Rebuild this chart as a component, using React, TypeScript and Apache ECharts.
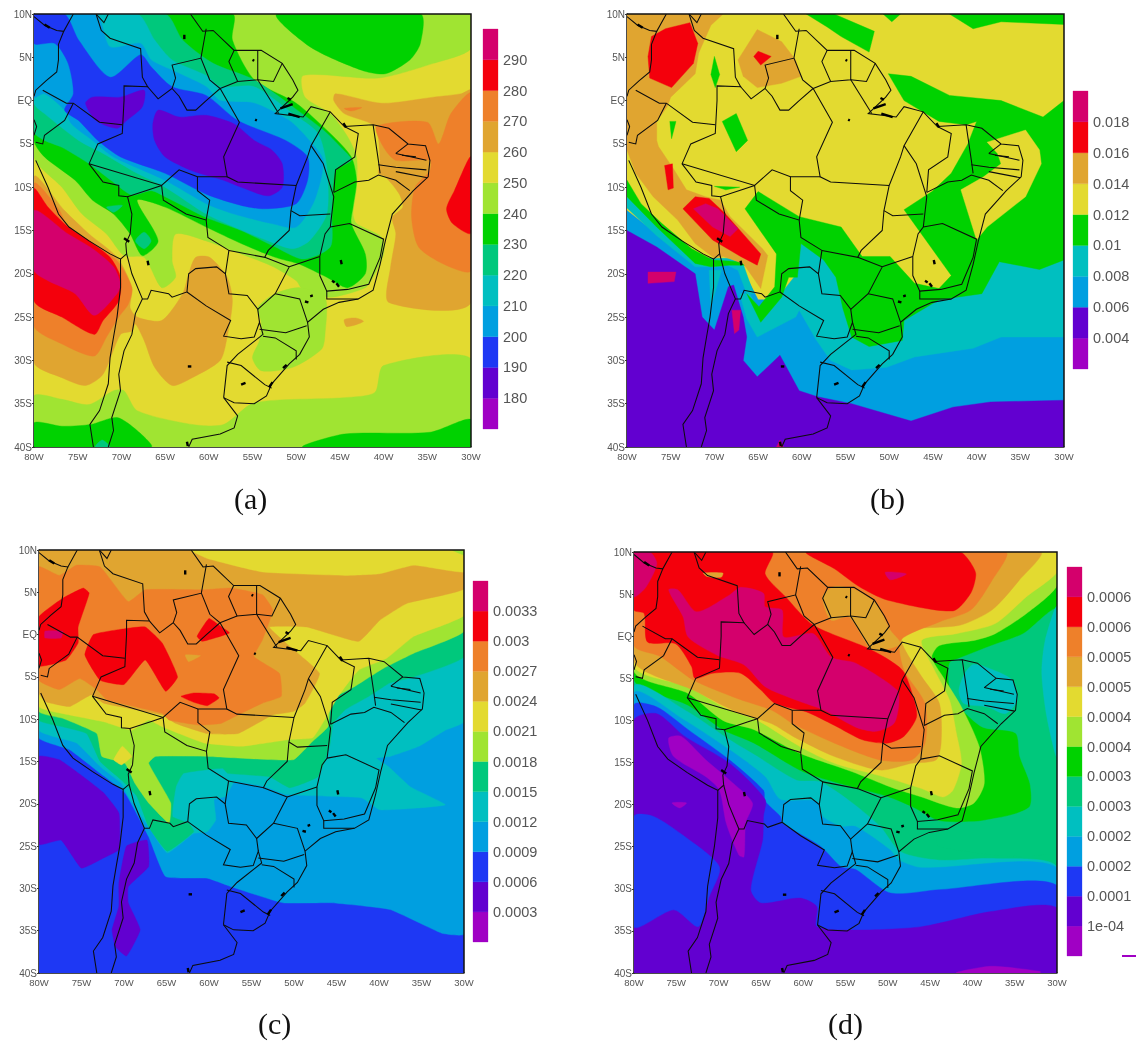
import React, { useEffect, useRef } from "react";
import * as echarts from "echarts";

type Pts = number[][];
// Contour classes, lowest to highest
const VIOLET = 0, PURPLE = 1, BLUE = 2, SKY = 3, TEAL = 4, SEA = 5, GREEN = 6, LIME = 7, YELLOW = 8, GOLD = 9, ORANGE = 10, RED = 11, PINK = 12;
const classColors = ["#A000C4", "#6200D0", "#1E38F4", "#009FE0", "#00BFC0", "#00C87C", "#00D200", "#A0E432", "#E3DA30", "#E0A530", "#EE802A", "#F4000C", "#D4006C"];

const whole: Pts = [[-80, 10], [-30, 10], [-30, -40], [-80, -40]];

// ---------- map outlines (lon, lat) ----------
const outlines: Pts[] = [
  [[-80, 9.7], [-78.8, 8.7], [-77.4, 8.1], [-76.6, 8], [-75.5, 10]],
  [[-76.6, 8], [-77.2, 6.5], [-77.2, 4.7], [-77.4, 3.3], [-78.6, 2.3], [-79.8, 1.2], [-80, 0.5]],
  [[-80, -2.2], [-79.7, -3], [-80, -4]],
  [[-79.8, -6.9], [-78.4, -10], [-77.2, -13.1], [-76, -14.6], [-73.7, -16.2], [-71.3, -17.7], [-70.1, -18.3], [-70.1, -21.6], [-70.5, -25], [-70.9, -27.3], [-71.3, -29.7], [-71.5, -32.7], [-72.5, -35.8], [-73.6, -37.4], [-73.2, -40]],
  [[-69.4, -17.7], [-68.8, -20], [-67.6, -22.9], [-68.4, -24.6], [-68.8, -27], [-69.7, -28.9], [-70.3, -31.6], [-70.1, -33.5], [-71.1, -36.6], [-70.9, -38.1], [-71.5, -40]],
  [[-67.6, -22.9], [-67, -22.9], [-66.6, -21.9], [-64.6, -22.3], [-64.2, -22.7], [-62.5, -22.1], [-62.3, -20], [-61.5, -19.4], [-59.1, -19.2], [-58.1, -20], [-57.7, -22.3], [-55.6, -22.5], [-54.4, -24.1], [-54.2, -25.6]],
  [[-62.5, -22.1], [-60.3, -23.7], [-57.5, -25.4], [-58.3, -27.2], [-56.3, -27.5], [-54.8, -27.3], [-54.2, -25.6], [-53.8, -27], [-56.7, -29.3], [-57.9, -30.6], [-58.3, -34.3]],
  [[-57.9, -30.2], [-56.3, -30.6], [-53.6, -32.8], [-52.8, -33.2]],
  [[-58.3, -34.3], [-57.1, -34.9], [-54.8, -35], [-53.4, -34.1], [-52.8, -32.7], [-50.8, -30.4], [-49.6, -29.3], [-48.5, -27.3], [-48.7, -25.6], [-46.9, -24.1], [-45.1, -23.3], [-42.9, -22.9], [-41.2, -21.9], [-40.4, -18.9], [-39.8, -16.2], [-39, -13.1], [-36.6, -10.4], [-34.9, -8.8], [-34.7, -6.9], [-35.2, -5.2], [-37.2, -5], [-39.4, -3.2], [-41.2, -2.8], [-44.5, -3], [-46.1, -1.3], [-48.3, -0.7], [-49.2, -1.9], [-52.4, -1.5], [-50.4, 0.4], [-49.8, 1.2], [-50.4, 2.4], [-51.6, 4.3], [-54, 5.8], [-57.1, 5.8], [-59.5, 8.1], [-60.7, 8], [-62.1, 10]],
  [[-58.3, -34.3], [-56.7, -36.4], [-57.1, -37.8], [-58.7, -38.5], [-61.9, -39.1], [-62.3, -40]],
  [[-72.9, 10], [-72.3, 8.1], [-71.3, 7.2], [-67.8, 6], [-67.6, 2.7], [-67, 1.6], [-69.7, 1.7], [-69.7, 0], [-69.9, -3.8], [-72.7, -5], [-73.7, -7.3], [-72.1, -9.4], [-70.3, -9.8], [-70.3, -11], [-69.3, -11.1], [-66.6, -10.2], [-65.4, -9.8], [-65.2, -11.5], [-62.6, -13.1], [-60.3, -13.8], [-60.1, -15.8], [-57.7, -17.3], [-58.1, -20]],
  [[-72.9, 10], [-72, 9], [-71.5, 10]],
  [[-67, 1.6], [-65.8, 0.2], [-64.2, 1.4], [-63.8, 2.6], [-64.2, 4.1], [-60.9, 4.9], [-60.3, 8.3]],
  [[-60.9, 4.9], [-59.9, 2.4], [-58.7, 1.4], [-60.3, 0], [-61.5, -1.1], [-62.5, -1.1], [-63.4, 0.5], [-64.2, 1.4]],
  [[-58.7, 1.4], [-56.5, -2.5], [-58.3, -6.5], [-57.9, -8.8], [-56.7, -9.4], [-50, -9.8]],
  [[-73.7, -7.3], [-65.4, -9.8], [-63.4, -8], [-61.3, -8.8], [-57.9, -8.8]],
  [[-61.3, -8.8], [-61.3, -10.4], [-59.9, -11.5], [-60.3, -13.8]],
  [[-50, -9.8], [-48.7, -6.5], [-48.3, -5.2], [-46.1, -1.3]],
  [[-48.3, -5.2], [-46.9, -7.3], [-45.7, -11.1], [-46.1, -14.6], [-46.7, -15.4], [-47.3, -18], [-47.3, -20.2], [-46.5, -22], [-44.1, -21.8], [-41.7, -21.2], [-40.4, -18.1], [-40, -16], [-43.9, -14.2], [-46.1, -14.6]],
  [[-50, -9.8], [-50.6, -12.7], [-50.8, -15], [-53.2, -17.3], [-53.6, -18.1], [-57.7, -17.3]],
  [[-50.6, -12.7], [-49.6, -13.3], [-46.1, -13.1]],
  [[-53.6, -18.1], [-50.8, -19.2], [-52.4, -22.3], [-54.4, -24.1]],
  [[-47.3, -18], [-50.8, -19.2]],
  [[-52.4, -22.3], [-49.6, -22.9], [-48.7, -25.6]],
  [[-46.5, -22], [-46.5, -22.9], [-42.9, -22.9]],
  [[-54.2, -26.4], [-51.2, -26.8], [-48.8, -26]],
  [[-53.8, -27.2], [-52.4, -27.4], [-50, -28.9], [-50, -29.9]],
  [[-45.7, -10.6], [-43.3, -9.4], [-41.7, -9.2], [-40.6, -8.6], [-38.6, -9.2], [-37, -10.4]],
  [[-44.5, -3], [-42.9, -3.8], [-43.3, -6.5], [-45.5, -8], [-45.7, -10.6]],
  [[-41.2, -2.8], [-40.6, -6.9], [-40.4, -8.4]],
  [[-40.6, -7.4], [-38.6, -7.7], [-35.1, -8]],
  [[-38.6, -6.1], [-35.1, -6.9]],
  [[-38.6, -6.1], [-37.2, -5]],
  [[-37.9, -6.3], [-36.3, -6.5]],
  [[-38.6, -8.2], [-35, -8.9]],
  [[-57.1, 5.8], [-57.7, 4.5], [-56.7, 2.2], [-54.4, 2.4], [-54.4, 5.8]],
  [[-54.4, 2.4], [-52.6, 2.2], [-51.6, 4.3]],
  [[-58.7, 1.4], [-56.7, 2.2]],
  [[-54.4, 2.4], [-52, -1.5]],
  [[-79, 1.2], [-76.3, -0.3], [-75.5, -0.3], [-72.5, -2.5], [-69.9, -2.8]],
  [[-75.5, -0.3], [-76.5, -2.3], [-78.8, -4], [-79, -5], [-79.8, -4.8]],
  [[-69.3, -11.1], [-68.8, -13.1], [-69, -15.4], [-69.5, -16.5], [-69.4, -17.7], [-70.1, -18.3]],
];
const waterBodies: Pts[] = [
  [[-62.8, 7.6], [-62.8, 7.1]], [[-55, 4.7], [-54.8, 4.6]], [[-54.7, -2.2], [-54.5, -2.3]], [[-44.9, -18.4], [-44.8, -18.9]],
  [[-45.9, -20.8], [-45.6, -21]], [[-45.4, -21.1], [-45.1, -21.5]], [[-49, -23.2], [-48.6, -23.3]], [[-48.4, -22.6], [-48.1, -22.5]],
  [[-62.4, -30.7], [-62, -30.7]], [[-56.3, -32.8], [-55.8, -32.6]], [[-69.7, -15.9], [-69.1, -16.3]], [[-67, -18.5], [-66.9, -19]],
  [[-51.8, -0.9], [-50.4, -0.4]], [[-50.9, -1.5], [-49.6, -1.9]], [[-51, 0.3], [-50.6, 0.1]], [[-44.6, -2.6], [-44.3, -3.1]],
  [[-53.1, -33.1], [-52.7, -32.5]], [[-51.5, -30.9], [-51.1, -30.5]], [[-78.8, 8.8], [-78.2, 8.4]], [[-62.5, -39.4], [-62.4, -39.9]],
];

// ---------- panel (a): outgoing radiation classes ----------
const aLimeNorth: Pts = [[-80, 10], [-30, 10], [-30, 6], [-34.3, 4.3], [-40.6, 2.6], [-49.2, 2.9], [-49, 0.4], [-46.1, -1.5], [-44.1, -4.2], [-43.1, -6.5], [-43.1, -10], [-43.5, -13.1], [-43.1, -14.2], [-40.2, -15.8], [-40, -17.7], [-41.2, -20.4], [-42.1, -21.6], [-46.1, -22.7], [-49.2, -21.9], [-50, -20.8], [-52.8, -19.1], [-56.3, -17.7], [-60.3, -16.2], [-63.8, -15.4], [-64.2, -18.5], [-63.8, -20.4], [-65.4, -21.6], [-67.4, -18.1], [-69.7, -17.9], [-71.7, -15.4], [-74.5, -13.1], [-76.8, -10], [-80, -6.5]];
const aLimeSouth: Pts = [[-54.4, -23.9], [-52.4, -22.3], [-49.6, -21.6], [-46.7, -22.7], [-46.7, -27], [-47.1, -28.7], [-50.4, -30.8], [-54, -31.2], [-55, -29.7], [-54.2, -27.7], [-54, -25.6]];
const aLimeBottom: Pts = [[-80, -34.1], [-76.8, -34.5], [-73.7, -35.1], [-70.9, -33.5], [-69.7, -33.5], [-68.2, -35.8], [-61.9, -37.4], [-58.3, -37.4], [-54.8, -34.9], [-44.5, -34.3], [-41, -33.7], [-40, -30.6], [-30, -29.8], [-30, -40], [-80, -40]];
const aGreenSW: Pts = [[-80, -37.2], [-76.8, -37.6], [-73.5, -37.4], [-70.5, -36.6], [-68.2, -38.1], [-66.6, -40], [-80, -40]];
const aGreenSE: Pts = [[-49.2, -40], [-44.5, -38.5], [-34.7, -38.3], [-30, -36.8], [-30, -40]];
const aSeaSouth: Pts = [[-73, -40], [-72.2, -39.2], [-71.3, -40]];
const aGoldWest: Pts = [[-80, -8.8], [-76.5, -12.7], [-73.7, -15.4], [-70.5, -18.1], [-68.8, -21.6], [-69, -23.9], [-68.2, -25], [-65.4, -25.4], [-63, -22.3], [-62.3, -20], [-61.5, -18.1], [-59.9, -18.1], [-57.9, -20.4], [-57.3, -23.1], [-57.9, -27.3], [-58.7, -30], [-61.9, -32], [-64.2, -32.9], [-66.2, -30.8], [-67.4, -27.7], [-68.4, -25.8], [-68.8, -26.6], [-70.1, -27], [-72.1, -31.6], [-74.1, -32.9], [-76.8, -32], [-80, -30.2]];
const aOrangeWest: Pts = [[-80, -9.6], [-77.2, -12.5], [-76.1, -14.6], [-73.7, -16.2], [-70.5, -18.5], [-68.8, -21.6], [-69.2, -23.5], [-70.3, -25], [-71.7, -27.3], [-73.1, -29.5], [-76.8, -28.1], [-80, -26]];
const aRedWest: Pts = [[-80, -10.2], [-78.4, -12.3], [-76.1, -14.6], [-73.7, -16.2], [-71.3, -18.1], [-70.1, -20.4], [-70.3, -23.1], [-72.1, -25.4], [-73.1, -27], [-76.8, -25], [-80, -23.1]];
const aPinkWest: Pts = [[-80, -12.7], [-76.1, -15.4], [-73.3, -17.1], [-70.9, -19.2], [-70.1, -21.2], [-70.5, -22.3], [-73.1, -24.8], [-75.3, -22.3], [-78.4, -20.8], [-80, -19.6]];
const aGoldEast: Pts = [[-45.5, 0.8], [-40.2, -0.3], [-34.3, 0.4], [-31.1, 0.8], [-30, 1.2], [-30, -23.3], [-39.4, -23.3], [-39.2, -19.2], [-38.6, -15.4], [-39, -13.5], [-37.8, -12.3], [-38.2, -10.8], [-39.8, -8.8], [-40.6, -8.4], [-40.4, -6.9], [-41, -3], [-44.5, -1.5], [-45.7, 0]];
const aOrangeEast: Pts = [[-40.8, -3], [-35, -2.5], [-33.7, -5], [-32.3, -1.5], [-30, 0.8], [-30, -19.6], [-33.1, -18.9], [-36, -16.9], [-36.8, -13.5], [-36.4, -10], [-34.7, -8.1], [-34.7, -6.9], [-38.6, -6.9], [-40, -5.4]];
const aRedEast: Pts = [[-30, -6.5], [-31.9, -10.4], [-32.8, -12.5], [-32.1, -14.2], [-30, -15.3]];
const aGoldDash: Pts = [[-44.5, -25.3], [-43.2, -25.1], [-42.3, -25.5], [-44.2, -26.1]];
const aOrangeDash: Pts = [[-44.5, -0.9], [-42.5, -0.8], [-43.7, -1.2]];
const aGreenBig: Pts = [[-80, 10], [-57.3, 10], [-57.3, 7], [-54.8, 2.4], [-50, -0.3], [-46.1, -3.8], [-43.7, -6.5], [-43.1, -9.2], [-43.5, -12.3], [-43.7, -14.2], [-42.1, -17.7], [-42.1, -20], [-44.1, -21.6], [-46.5, -20.4], [-49.6, -18.9], [-52.4, -18.1], [-56.3, -16.5], [-60.3, -14.6], [-65, -12.3], [-68.2, -11.5], [-65.8, -16.2], [-67.6, -17.9], [-69, -15.4], [-70.9, -13.1], [-73.3, -11.5], [-75.3, -9.2], [-78.8, -6.5], [-80, -4.6]];
const aGreenNE: Pts = [[-52.2, 10], [-35.8, 10], [-35.8, 6.6], [-37, 4.7], [-39.8, 3.1], [-42.5, 3.5], [-48.4, 6.2]];
const aSeaBig: Pts = [[-80, 10], [-65, 10], [-63, 7], [-59.5, 4.3], [-54.8, 2.4], [-50.4, -0.7], [-46.9, -3.4], [-44.9, -5.4], [-43.7, -6.9], [-45.5, -8.1], [-45.9, -13.5], [-46.1, -16.9], [-49.2, -18.3], [-52.4, -16.9], [-56.3, -15], [-60.3, -13.5], [-65, -11.1], [-66.6, -10.4], [-68.8, -10.9], [-70.7, -9.6], [-73.7, -7.3], [-76.8, -5.4], [-78.8, -4.6], [-80, -3.6]];
const aSeaSpot1: Pts = [[-71.7, -12.3], [-69.9, -12.1], [-70.9, -12.9]];
const aSeaSpot2: Pts = [[-68.4, -16.2], [-67.4, -15.2], [-66.6, -16.2], [-67.4, -17.1]];
const aTealBig: Pts = [[-80, 10], [-68.2, 10], [-66.2, 7], [-64.2, 4.7], [-60.3, 2.9], [-58.7, 1.6], [-54.8, 1.6], [-50.4, -1.5], [-47.5, -3.8], [-46.5, -7.7], [-46.5, -13.1], [-48.5, -16.2], [-50.4, -17.1], [-53.2, -16.2], [-57.1, -14.6], [-60.3, -13.1], [-65, -10], [-68.2, -8.4], [-72.1, -6.1], [-74.9, -4.6], [-78.8, -1.5], [-80, -0.3]];
const aSkyBig: Pts = [[-80, 10], [-72.9, 10], [-71.3, 6.2], [-67.8, 6.6], [-66.6, 4.7], [-64.2, 3.5], [-60.3, 1.6], [-58.7, 0], [-54.8, -0.3], [-50.8, -2.3], [-48.5, -4.6], [-46.9, -6.9], [-47.9, -11.5], [-50, -14.6], [-52.8, -14.2], [-57.1, -13.1], [-60.3, -11.9], [-65, -9.2], [-70.9, -6.5], [-73.3, -4.6], [-75.7, -2.7], [-76.5, -1.1], [-78.8, 0.8], [-80, 0.4]];
const aBlueBig: Pts = [[-80, 10], [-76.5, 10], [-74.9, 7], [-71.3, 2.7], [-67.8, 5.3], [-66.6, 3.9], [-64.2, 1.6], [-60.3, 0.6], [-56.7, -2.3], [-51.2, -4.6], [-48.7, -6.5], [-48.7, -9.2], [-50, -11.9], [-53.6, -12.5], [-56.3, -12.1], [-60.3, -10.8], [-65, -8.4], [-70.1, -6.5], [-72.7, -4.6], [-74.9, -2.3], [-76.5, -1.1], [-75.5, 0.8], [-76.1, 4.3], [-77.6, 6.6], [-80, 6.6]];
const aPurpleWest: Pts = [[-74.1, -0.3], [-73.3, 0.4], [-70.1, 0.4], [-67.4, 1.2], [-67.6, -0.7], [-69.4, -2.3], [-70.5, -3.2], [-72.9, -2.3]];
const aPurpleEast: Pts = [[-66.4, -2.7], [-65.8, -1.1], [-63.4, -1.9], [-60.3, -1.7], [-57.1, -2.7], [-54.8, -4.6], [-52.8, -5.7], [-51.6, -7.3], [-51.6, -10], [-53.2, -11], [-56.3, -10], [-58.3, -9.2], [-61.9, -8.1], [-65, -6.5], [-66.2, -4.6]];

// ---------- panel (b) ----------
const bBlueSouth: Pts = [[-80, -12.7], [-76.2, -15.7], [-72.2, -18.8], [-70.2, -19.2], [-68.4, -18.8], [-66.7, -19.6], [-65, -23], [-30, -23], [-30, -38], [-80, -38]];
const bTealMain: Pts = [[-30, -18], [-37.4, -18.2], [-39.8, -21.9], [-44.3, -22.7], [-48.7, -25], [-48.9, -27.3], [-52.3, -28.1], [-53.9, -26.9], [-54.9, -24], [-55.7, -20.4], [-57.1, -18.2], [-60.1, -16.5], [-60.9, -20.4], [-62.7, -22.7], [-64.7, -25], [-65.9, -22.3], [-67.1, -22.3], [-66.3, -25.2], [-65.1, -27.3], [-60.7, -25], [-60.3, -24.2], [-58.3, -27.7], [-56.7, -30], [-54.3, -31.1], [-50.3, -30.8], [-47.1, -29.6], [-40.4, -28.6], [-37.2, -27.3], [-30, -27.3]];
const bTealWest: Pts = [[-80, -11.1], [-76.6, -14.2], [-72.2, -18.2], [-70.2, -18.2], [-68.3, -18.2], [-66.7, -18.9], [-65.5, -22.3], [-66.3, -22.3], [-67.3, -19.6], [-68.5, -19], [-70.2, -19.2], [-72.2, -19.2], [-76.6, -15.6], [-80, -12.4]];
const bTealAndes: Pts = [[-70.6, -19.6], [-69.2, -19.6], [-70.4, -23.8]];
const bPurpleSouth: Pts = [[-80, -15], [-76.6, -16.9], [-72.2, -20], [-71.4, -25], [-70, -26.5], [-68.4, -21.5], [-67.8, -21.3], [-66.7, -25], [-66.3, -27.3], [-66.7, -30], [-65.1, -31.9], [-62.5, -29.4], [-60.3, -33.5], [-58.2, -34.2], [-54.3, -35], [-47.5, -37], [-42.7, -35.4], [-38.4, -34.8], [-30, -34.6], [-30, -40], [-80, -40]];
const bGreenMain: Pts = [[-50.1, 3.1], [-47.5, 2.8], [-43.1, 0.6], [-37.2, 0], [-32.4, -1.9], [-30, 0], [-30, -18.4], [-32.8, -19.5], [-37.4, -18.6], [-39.4, -22.3], [-44.3, -23], [-48.3, -25.4], [-48.5, -27.7], [-50.7, -28.1], [-52.3, -28.4], [-54.3, -27.3], [-55.3, -24], [-56.1, -20.4], [-57.5, -18.4], [-60.1, -16.5], [-60.5, -20.4], [-61.5, -20.4], [-62.3, -22.7], [-64.7, -25.6], [-66.3, -22.3], [-64.9, -23.8], [-63.1, -21.5], [-62.9, -17.7], [-66.5, -12.5], [-65, -10.5], [-60.3, -13.4], [-55.5, -14.6], [-53.1, -18], [-49.9, -18], [-47.1, -21.1], [-44.3, -21.7], [-42.9, -20.2], [-48.3, -12.6], [-45.1, -10.5], [-42.9, -8.4], [-41, -5], [-40, -2.4], [-41.2, -2.8], [-44.3, -2.4], [-48.3, 0]];
const bGreenWest: Pts = [[-80, -9.2], [-78.4, -11.9], [-76, -14.2], [-72.6, -17.1], [-70.2, -18.4], [-67.1, -18.6], [-66.5, -19], [-68.3, -19], [-70.4, -19.2], [-72.2, -18.8], [-76.6, -14.6], [-80, -11.1]];
const bYellowEast: Pts = [[-38.8, -4.8], [-34.4, -3.4], [-32.8, -5.7], [-32.6, -7.3], [-34.4, -11.1], [-38.8, -14.6], [-40, -16.1], [-41.8, -10.3], [-39.2, -8.8], [-37.2, -7.3], [-37.6, -6.1]];
const bGreenN1: Pts = [[-59.5, 10], [-56.3, 10], [-51.7, 8], [-52.3, 5.6], [-55.5, 7.4], [-57.1, 8.5]];
const bGreenN2: Pts = [[-50.7, 10], [-49.7, 9.1], [-48.7, 10]];
const bGreenN3: Pts = [[-43.1, 10], [-40.4, 8.3], [-37.2, 9.1], [-30, 8.8], [-30, 10]];
const bGoldWest: Pts = [[-80, 10], [-69, 10], [-70.4, 8.7], [-71.8, 5.5], [-72.2, 3.1], [-75, 0.4], [-75.4, -0.7], [-76.6, -2.4], [-76.6, -4.6], [-76.4, -5.3], [-74.6, -8], [-73.2, -10.3], [-71, -11.1], [-69.3, -11.5], [-68.2, -13.4], [-64.5, -17.1], [-63.9, -17.9], [-64.7, -21.7], [-66.7, -18.8], [-69, -18], [-70, -18.2], [-72.2, -16.5], [-74.2, -13.8], [-77, -11.1], [-79, -8.4], [-80, -5.7]];
const bGoldNorth: Pts = [[-67.3, 4.7], [-65.1, 8.2], [-62.3, 6.8], [-60.7, 4.7], [-60.1, 2.8], [-62.3, 2], [-65.1, 1.5], [-66.7, 2.8]];
const bRedNW: Pts = [[-77.2, 7.4], [-75.6, 8.3], [-72.8, 9], [-71.9, 6.6], [-72.4, 4.3], [-74.9, 1.5], [-77.4, 2.6], [-77.6, 5.1]];
const bRedSmall: Pts = [[-75.7, -7.5], [-74.8, -7.3], [-74.7, -10.1], [-75.3, -10.3]];
const bRedAndes: Pts = [[-73.6, -12.5], [-72.2, -11.1], [-70.6, -11.3], [-68.8, -13], [-64.7, -17.7], [-65.1, -19], [-67, -18], [-70.2, -16.1]];
const bPinkAndes: Pts = [[-72.4, -12.5], [-71, -11.9], [-69.6, -12.5], [-67.3, -14.8], [-68.2, -15.7], [-70.2, -14.6]];
const bRedNorth: Pts = [[-65.5, 5.1], [-65, 5.7], [-63.5, 5.1], [-64.7, 4.1]];
const bPinkPacific: Pts = [[-77.6, -19.8], [-74.4, -19.8], [-74.6, -20.9], [-77.6, -21.1]];
const bPinkSouthAndes: Pts = [[-68, -24.2], [-67, -24.2], [-67.2, -26.5], [-67.7, -26.9]];
const bPinkCoast: Pts = [[-62.9, -40], [-62.5, -39.2], [-62.1, -40]];
const bGreenLeaf: Pts = [[-70, 5.1], [-69.4, 3], [-69.9, 1.5], [-70.4, 3]];
const bGreenAmazon: Pts = [[-69.1, -2.4], [-67.5, -1.5], [-66.2, -4.6], [-67.5, -5.9]];
const bGreenPeru: Pts = [[-75.1, -2.4], [-74.4, -2.4], [-74.9, -4.4]];
const bGreenSliver: Pts = [[-70, -9.9], [-67.1, -10], [-68.7, -10.3]];

// ---------- panel (c) ----------
const cSky: Pts = [[-80, -12.2], [-76.4, -13.6], [-72.8, -16.4], [-69.9, -18.7], [-67.1, -23.9], [-65.1, -28.6], [-60.2, -28.8], [-57.4, -29.8], [-51.3, -31.7], [-45.6, -31.7], [-38.7, -32.5], [-32.6, -35.3], [-30, -35.4], [-30, 10], [-80, 10]];
const cTeal: Pts = [[-30, -10.3], [-32.2, -11.3], [-35.3, -13.2], [-38.7, -14.4], [-40.3, -14.6], [-38.9, -15.6], [-36.3, -18], [-32.2, -20.1], [-35.5, -20.5], [-39.9, -20.7], [-42, -19.3], [-46, -19.1], [-50.9, -18.9], [-53.3, -18], [-57, -17.4], [-58, -19.1], [-59.4, -19.5], [-59.2, -21.9], [-60.2, -23.3], [-61.8, -23.5], [-64.9, -25.8], [-67.1, -22.7], [-69.5, -19.1], [-70.3, -17.6], [-72.8, -15.6], [-75.6, -12.8], [-80, -11.3], [-80, 10], [-30, 10]];
const cSea: Pts = [[-30, -2.6], [-35.9, -5], [-38.7, -5.7], [-41.2, -7.3], [-44, -8.9], [-45.4, -10.5], [-45.8, -13.2], [-47.2, -16.8], [-50.5, -18.1], [-52.9, -16.8], [-57.8, -16.4], [-58.4, -15.8], [-63, -16.4], [-63.9, -18], [-64.3, -21.5], [-62.4, -22.3], [-61.8, -23.3], [-64.9, -25.6], [-67.1, -22.7], [-68.5, -19.1], [-70.3, -17.2], [-72.8, -15], [-74.4, -11.7], [-77.2, -10.9], [-80, -10.1], [-80, 10], [-30, 10]];
const cLime: Pts = [[-30, 0.4], [-35.9, -2.2], [-39.5, -4], [-42.8, -6.1], [-45.6, -7.7], [-46, -10.9], [-48, -12.8], [-50.1, -14.8], [-60.2, -14.4], [-66.3, -14.4], [-67.1, -15.2], [-64.5, -19.9], [-64.7, -22.3], [-67.1, -19.9], [-68.7, -17.6], [-69.9, -15.2], [-72.6, -14.4], [-73.2, -11.7], [-77.2, -9.9], [-80, -9.1], [-80, 10], [-30, 10]];
const cYellow: Pts = [[-30, 2.3], [-35.9, -0.2], [-39.1, -2.8], [-42.4, -4.2], [-44.8, -7.3], [-46.4, -10.1], [-47.8, -12.2], [-50.5, -12.4], [-56.2, -13.2], [-60.6, -12.8], [-65.5, -10.9], [-67.1, -10.1], [-69.1, -11.3], [-72.4, -10.3], [-76.4, -9.5], [-80, -8.5], [-80, 10], [-30, 10]];
const cYellowSpot: Pts = [[-71.2, -14.8], [-70.2, -13.2], [-69.1, -14.4], [-70.3, -15.4]];
const cGold: Pts = [[-30, 5.4], [-36.7, 3.7], [-39.9, 1.7], [-42.4, -0.8], [-48.5, 0.9], [-52.9, 0.9], [-50.5, -1.4], [-47, -4.6], [-48.7, -8.1], [-50.1, -9.1], [-52.5, -9.5], [-56.6, -11.7], [-60.2, -11.7], [-63.9, -10.5], [-65.5, -9.5], [-72.4, -8.1], [-73.8, -7.1], [-76.4, -8.5], [-79.3, -7.9], [-80, -6.9], [-80, 10], [-30, 10]];
const cYellowTop: Pts = [[-62.2, 10], [-60.2, 9], [-53.7, 7.4], [-44, 7], [-39.9, 7.2], [-35.9, 8.2], [-30, 7.4], [-30, 10]];
const cLimeCorner: Pts = [[-31.4, 10], [-30, 9.4], [-30, 10]];
const cOrange: Pts = [[-80, 8], [-77.6, 7], [-75.6, 8.2], [-72.8, 8], [-69.5, 3.9], [-67.5, 5.3], [-60.6, 5.3], [-57.4, 5.5], [-53.7, 4.7], [-52.5, 2.9], [-53.7, -0.6], [-54.7, -2.6], [-51.7, -4.6], [-51.5, -7.3], [-53.7, -8.1], [-56.6, -9.5], [-58.6, -10.5], [-61.2, -10.7], [-64.7, -10.1], [-65.5, -9.3], [-72, -7.7], [-73.2, -6.5], [-75.2, -5.2], [-77.6, -6.5], [-80, -5.4]];
const cGoldSpot: Pts = [[-62.8, -2.4], [-61, -2.5], [-62.4, -3.2]];
const cRedWest: Pts = [[-80, 2.1], [-77.2, 4.3], [-74.8, 5.5], [-74.1, 4.9], [-75.4, 0.9], [-75.4, -1], [-76.8, -3], [-80, -3.7]];
const cPinkWest: Pts = [[-79.3, 0.4], [-77.2, 0.4], [-77.4, -0.4], [-79.3, -0.4]];
const cRedAmazon: Pts = [[-73.6, 0], [-69.9, 0.7], [-67.5, 0.9], [-65.5, -1], [-63.7, -5], [-65.1, -6.7], [-67.5, -3], [-70, -5.9], [-72.8, -5.4], [-74.6, -2.4]];
const cRedRoraima: Pts = [[-60, 1.9], [-58.8, 1.1], [-57.6, 0.2], [-60.8, -0.8], [-61.4, -0.2]];
const cRedSouth: Pts = [[-63.3, -7.3], [-61.8, -6.9], [-59.4, -7], [-58.8, -7.5], [-60.2, -8.4], [-61.8, -8]];
const cPurplePacific: Pts = [[-80, -14.4], [-77.6, -14.8], [-74.8, -16.8], [-72.4, -18.7], [-70.6, -21.1], [-70.6, -25.4], [-72.4, -26.4], [-75, -27.6], [-77.4, -24.3], [-80, -24.8]];
const cPurpleAndes: Pts = [[-69.7, -25], [-67.3, -24.3], [-67.1, -27.4], [-69.5, -29.8], [-69.5, -31.7], [-68.1, -34.9], [-69.7, -38], [-71, -36.9], [-71.4, -34.9], [-70.6, -32.1], [-70.6, -29.4]];

// ---------- panel (d) ----------
const dGreen: Pts = [[-80, 10], [-30, 10], [-30, -21], [-40.8, -22], [-43.9, -21.9], [-47.2, -20.2], [-50.1, -19], [-53.8, -18], [-60, -16.1], [-65.8, -12.7], [-69.5, -11.1], [-73.6, -8.2], [-80, -5.2]];
const dSeaEast: Pts = [[-30, 3.1], [-34, 0.3], [-37.7, -1.1], [-41.5, -2.6], [-42.7, -3.2], [-42.7, -6], [-41.5, -8.4], [-38.8, -10.8], [-34.9, -11.5], [-34.4, -14.3], [-33.2, -17.5], [-33.2, -20.2], [-35.3, -21.2], [-40.8, -22.2], [-43.9, -22.2], [-43.9, -25], [-30, -25]];
const dTealEast: Pts = [[-30, 3.5], [-31.4, -0.5], [-31.8, -4.4], [-31.2, -9.6], [-30, -14.3]];
const dTealNE: Pts = [[-41, -4.6], [-40, -3.4], [-38.6, -3.6], [-35.3, -5.2], [-34.7, -7.6], [-36.1, -9.2], [-38.2, -8.4], [-41, -8], [-41.6, -6.5]];
const dTealSouth: Pts = [[-80, -6], [-73.6, -9], [-68.7, -12.3], [-65.4, -14.3], [-60.8, -17.1], [-58, -17.3], [-54.2, -19.8], [-50.9, -22.6], [-48.5, -25.6], [-43.9, -26.6], [-37.7, -26.4], [-30, -27.4], [-30, -40], [-80, -40]];
const dSky: Pts = [[-80, -6.8], [-74, -10], [-68.7, -13.5], [-64.5, -16.7], [-62.7, -19.4], [-58.4, -19.6], [-57.7, -21.4], [-55.5, -22.6], [-53.8, -22.6], [-49.7, -25.4], [-48.7, -26.6], [-46, -27.5], [-30, -27.5], [-30, -40], [-80, -40]];
const dBlue: Pts = [[-80, -8.2], [-77.3, -8.4], [-73.6, -11.1], [-68.7, -14.7], [-64.7, -18.3], [-64.5, -19.6], [-62.7, -21.4], [-62.5, -22.2], [-57.9, -25], [-55.5, -27.4], [-53.8, -27.7], [-49.7, -30.5], [-43.9, -30.1], [-30, -29.6], [-30, -40], [-80, -40]];
const dPurple: Pts = [[-80, -10], [-77.3, -9.2], [-74, -11.9], [-68.7, -15.1], [-64.5, -19.4], [-64.7, -21.4], [-64.8, -24.2], [-66.2, -30.1], [-65, -31.7], [-60.4, -31.1], [-58.4, -32.1], [-58.4, -34.5], [-53.8, -34.9], [-46, -34.5], [-37.8, -32.7], [-30, -32.3], [-30, -40], [-80, -40]];
const dBlueWest: Pts = [[-80, -21.4], [-77.7, -21.4], [-74, -23.8], [-69.9, -27.4], [-71.1, -30.9], [-72.4, -34.5], [-75.3, -32.5], [-80, -34.5]];
const dVioletAndes: Pts = [[-75.9, -12.1], [-74.4, -11.9], [-71.5, -14.7], [-68.7, -17.1], [-66, -19.8], [-66.8, -22.2], [-67, -26.2], [-67.6, -26], [-69.1, -22.2], [-69.9, -18.3], [-71.5, -16.7], [-75.3, -14.3]];
const dVioletDash: Pts = [[-75.5, -19.8], [-73.8, -19.8], [-74.6, -20.4]];
const dVioletBottom: Pts = [[-41.9, -40], [-37.8, -39.2], [-32, -39.8], [-32, -40]];
const dLime: Pts = [[-30, 6], [-33.6, 2.7], [-37.3, 0.3], [-39.8, -0.5], [-43.9, -1.1], [-44.8, -2.5], [-43.5, -4.8], [-41.3, -8.4], [-39.2, -13.1], [-38.6, -17.5], [-39.8, -19.8], [-41.9, -20.4], [-46, -19.1], [-49.7, -17.9], [-54.2, -16.1], [-60.4, -13.9], [-65.8, -11.1], [-69.5, -10], [-73.6, -6.8], [-80, -4.2], [-80, 10], [-30, 10]];
const dYellow: Pts = [[-30, 7.6], [-33.6, 4.7], [-37.3, 1.5], [-41.9, 0.3], [-46, -0.5], [-44.5, -4], [-42.7, -7.6], [-41.9, -11.5], [-41.3, -15.1], [-42.3, -18.3], [-43.5, -19.1], [-46, -18.1], [-50.5, -16.7], [-56.3, -15.1], [-60.4, -13.1], [-65.4, -10], [-68.7, -8.8], [-73.6, -6], [-80, -3.6], [-80, 10], [-30, 10]];
const dGold: Pts = [[-32, 10], [-34.5, 6.6], [-37.7, 3.1], [-41.5, 1.3], [-48, 0.7], [-48.3, -0.9], [-46, -4.8], [-43.9, -8], [-43.7, -12.7], [-44.3, -14.7], [-47.2, -15.1], [-50.9, -15.9], [-56.3, -14.3], [-61.2, -11.9], [-63.7, -10.4], [-68.3, -8.8], [-73, -6.4], [-80, -3], [-80, 10]];
const dOrange: Pts = [[-36.1, 10], [-37.7, 6.6], [-40.2, 3.1], [-43.9, 1.7], [-48.5, -0.5], [-48.1, -4], [-45.6, -8], [-45.6, -12.7], [-47.2, -14.7], [-50.9, -14.7], [-56.3, -12.7], [-61.2, -10.4], [-63.7, -8.8], [-67.8, -7.4], [-73, -5.2], [-76.9, -2.4], [-80, -1.1], [-80, 10]];
const dGoldGuiana: Pts = [[-57.7, 4.7], [-56.3, 5.9], [-53.8, 5.5], [-51.4, 3.9], [-49.7, 0.7], [-48.5, -0.9], [-50.9, -1.7], [-52.2, -1.3], [-54.6, 2.3], [-56.7, 1.9]];
const dRedWest: Pts = [[-80, 10], [-63.7, 10], [-64.5, 7.4], [-62.1, 4.7], [-58.8, 1.3], [-52.2, -1.5], [-48.3, -4], [-47, -7.2], [-46.6, -9.6], [-48.1, -11.9], [-50.1, -12.7], [-53, -12.3], [-56.3, -10.6], [-59.6, -9], [-63.3, -8], [-65, -6.4], [-67.4, -4.4], [-70.7, -4.4], [-72.8, -5], [-73.2, -3.6], [-75.1, -0.9], [-78.4, -0.7], [-78.8, 2.7], [-80, 3.1]];
const dRedNorth: Pts = [[-59.6, 10], [-41.5, 10], [-40.4, 9], [-39.6, 7.4], [-40.2, 5.1], [-42.3, 3], [-50.1, 4.3], [-53.4, 5.9], [-56.3, 8]];
const dPinkCorner: Pts = [[-80, 10], [-78.1, 10], [-77.3, 8.6], [-78.6, 5.8], [-80, 4.7]];
const dPinkMain: Pts = [[-75.9, 5.5], [-74.8, 5.5], [-72.6, 2.9], [-68.7, 4.9], [-67.4, 5.8], [-64.7, 5.1], [-64.5, 3.5], [-62.5, 3.1], [-62.3, -0.1], [-58.8, 0.3], [-56.7, -2.5], [-53.8, -3.2], [-48.9, -6.4], [-48.7, -8.2], [-49.3, -10.4], [-51.4, -11.3], [-53.8, -10.8], [-57.5, -8.8], [-60.8, -7.6], [-64.5, -6], [-67, -3.4], [-70.1, -2.3], [-73.6, -0.1], [-74.2, 2.3]];
const dPinkDash: Pts = [[-50.3, 7.6], [-47.8, 7.4], [-49.7, 6.7]];
const dGoldDash: Pts = [[-71.8, 7.5], [-69.5, 7.5], [-69.7, 7], [-71.4, 7.1]];

// painting order: each entry is [class, polygon]
const layersA: [number, Pts][] = [[YELLOW, whole], [LIME, aLimeNorth], [LIME, aLimeSouth], [LIME, aLimeBottom], [GREEN, aGreenSW], [GREEN, aGreenSE], [SEA, aSeaSouth], [GOLD, aGoldWest], [ORANGE, aOrangeWest], [RED, aRedWest], [PINK, aPinkWest], [GOLD, aGoldEast], [ORANGE, aOrangeEast], [RED, aRedEast], [GOLD, aGoldDash], [ORANGE, aOrangeDash], [GREEN, aGreenBig], [GREEN, aGreenNE], [SEA, aSeaBig], [SEA, aSeaSpot1], [SEA, aSeaSpot2], [TEAL, aTealBig], [SKY, aSkyBig], [BLUE, aBlueBig], [PURPLE, aPurpleWest], [PURPLE, aPurpleEast]];
const layersB: [number, Pts][] = [[YELLOW, whole], [SKY, bBlueSouth], [TEAL, bTealMain], [TEAL, bTealWest], [PURPLE, bPurpleSouth], [TEAL, bTealAndes], [GREEN, bGreenMain], [GREEN, bGreenWest], [YELLOW, bYellowEast], [GREEN, bGreenN1], [GREEN, bGreenN2], [GREEN, bGreenN3], [GOLD, bGoldWest], [GOLD, bGoldNorth], [RED, bRedNW], [RED, bRedSmall], [RED, bRedAndes], [PINK, bPinkAndes], [RED, bRedNorth], [PINK, bPinkPacific], [PINK, bPinkSouthAndes], [PINK, bPinkCoast], [GREEN, bGreenLeaf], [GREEN, bGreenAmazon], [GREEN, bGreenPeru], [GREEN, bGreenSliver]];
const layersC: [number, Pts][] = [[BLUE, whole], [SKY, cSky], [TEAL, cTeal], [SEA, cSea], [LIME, cLime], [YELLOW, cYellow], [YELLOW, cYellowSpot], [GOLD, cGold], [YELLOW, cYellowTop], [LIME, cLimeCorner], [ORANGE, cOrange], [GOLD, cGoldSpot], [RED, cRedWest], [PINK, cPinkWest], [RED, cRedAmazon], [RED, cRedRoraima], [RED, cRedSouth], [PURPLE, cPurplePacific], [PURPLE, cPurpleAndes]];
const layersD: [number, Pts][] = [[SEA, whole], [GREEN, dGreen], [SEA, dSeaEast], [TEAL, dTealEast], [TEAL, dTealNE], [TEAL, dTealSouth], [SKY, dSky], [BLUE, dBlue], [PURPLE, dPurple], [BLUE, dBlueWest], [VIOLET, dVioletAndes], [VIOLET, dVioletDash], [VIOLET, dVioletBottom], [LIME, dLime], [YELLOW, dYellow], [GOLD, dGold], [ORANGE, dOrange], [GOLD, dGoldGuiana], [RED, dRedWest], [RED, dRedNorth], [PINK, dPinkCorner], [PINK, dPinkMain], [PINK, dPinkDash], [GOLD, dGoldDash]];

// colour-bar classes (bottom to top) and their boundary labels
const barAClasses = [VIOLET, PURPLE, BLUE, SKY, TEAL, SEA, GREEN, LIME, YELLOW, GOLD, ORANGE, RED, PINK];
const barALabels = ["180", "190", "200", "210", "220", "230", "240", "250", "260", "270", "280", "290"];
const barBClasses = [VIOLET, PURPLE, SKY, TEAL, GREEN, YELLOW, GOLD, RED, PINK];
const barBLabels = ["0.004", "0.006", "0.008", "0.01", "0.012", "0.014", "0.016", "0.018"];
const barCClasses = [VIOLET, PURPLE, BLUE, SKY, TEAL, SEA, LIME, YELLOW, GOLD, ORANGE, RED, PINK];
const barCLabels = ["0.0003", "0.0006", "0.0009", "0.0012", "0.0015", "0.0018", "0.0021", "0.0024", "0.0027", "0.003", "0.0033"];
const barDClasses = [VIOLET, PURPLE, BLUE, SKY, TEAL, SEA, GREEN, LIME, YELLOW, GOLD, ORANGE, RED, PINK];
const barDLabels = ["1e-04", "0.0001", "0.0002", "0.0002", "0.0003", "0.0003", "0.0004", "0.0004", "0.0005", "0.0005", "0.0006", "0.0006"];

const panels = [
  { layers: layersA, grid: { left: 34, top: 14, width: 437, height: 433 }, bar: { left: 483, top: 29, width: 15, height: 400 }, classes: barAClasses, labels: barALabels, smooth: 0.25 },
  { layers: layersB, grid: { left: 627, top: 14, width: 437, height: 433 }, bar: { left: 1073, top: 91, width: 15, height: 278 }, classes: barBClasses, labels: barBLabels, smooth: 0 },
  { layers: layersC, grid: { left: 39, top: 550, width: 425, height: 423 }, bar: { left: 473, top: 581, width: 15, height: 361 }, classes: barCClasses, labels: barCLabels, smooth: 0.12 },
  { layers: layersD, grid: { left: 634, top: 552, width: 423, height: 421 }, bar: { left: 1067, top: 567, width: 15, height: 389 }, classes: barDClasses, labels: barDLabels, smooth: 0.25 },
];

const captions = [
  { text: "(a)", x: 251, y: 500 },
  { text: "(b)", x: 887, y: 500 },
  { text: "(c)", x: 275, y: 1025 },
  { text: "(d)", x: 845, y: 1025 },
];

const sans = "Liberation Sans";
const ink = "#555";

function buildOption() {
  const grid: any[] = [];
  const xAxis: any[] = [];
  const yAxis: any[] = [];
  const series: any[] = [];
  panels.forEach((p) => {
    const g = grid.length;
    grid.push({ ...p.grid, show: false });
    xAxis.push({
      type: "value", gridIndex: g, min: -80, max: -30, interval: 5,
      axisLine: { onZero: false, lineStyle: { color: "#111", width: 1.5 } },
      axisTick: { show: false }, splitLine: { show: false },
      axisLabel: { fontFamily: sans, fontSize: 9.5, color: ink, margin: 4, showMinLabel: true, showMaxLabel: true, formatter: (v: number) => `${-v}W` },
    });
    yAxis.push({
      type: "value", gridIndex: g, min: -40, max: 10, interval: 5,
      axisLine: { onZero: false, lineStyle: { color: "#111", width: 1.5 } },
      axisTick: { show: true, length: 2, lineStyle: { color: "#333" } }, splitLine: { show: false },
      axisLabel: { fontFamily: sans, fontSize: 10, color: ink, margin: 2, showMinLabel: true, showMaxLabel: true, formatter: (v: number) => (v === 0 ? "EQ" : v > 0 ? `${v}N` : `${-v}S`) },
    });
    // contour classes
    series.push({
      type: "custom", xAxisIndex: g, yAxisIndex: g, clip: true, silent: true, z: 2,
      coordinateSystem: "cartesian2d",
      data: p.layers.map((_, i) => [i]),
      encode: { x: -1, y: -1 },
      renderItem: (params: any, api: any) => {
        const [cls, pts] = p.layers[params.dataIndex];
        const color = classColors[cls];
        return {
          type: "polygon",
          shape: { points: pts.map((q) => api.coord(q)), smooth: pts === whole ? 0 : p.smooth },
          style: { fill: color, stroke: color, lineWidth: 0.4 },
        };
      },
    });
    // borders and coast
    series.push({
      type: "custom", xAxisIndex: g, yAxisIndex: g, clip: true, silent: true, z: 3,
      coordinateSystem: "cartesian2d",
      data: outlines.map((_, i) => [i]),
      encode: { x: -1, y: -1 },
      renderItem: (params: any, api: any) => ({
        type: "polyline",
        shape: { points: outlines[params.dataIndex].map((q) => api.coord(q)) },
        style: { fill: "none", stroke: "#0c0c0c", lineWidth: 1.05 },
      }),
    });
    series.push({
      type: "custom", xAxisIndex: g, yAxisIndex: g, clip: true, silent: true, z: 3,
      coordinateSystem: "cartesian2d",
      data: waterBodies.map((_, i) => [i]),
      encode: { x: -1, y: -1 },
      renderItem: (params: any, api: any) => ({
        type: "polyline",
        shape: { points: waterBodies[params.dataIndex].map((q) => api.coord(q)) },
        style: { fill: "none", stroke: "#000", lineWidth: 2.4 },
      }),
    });
    // top and right frame
    series.push({
      type: "custom", xAxisIndex: g, yAxisIndex: g, clip: false, silent: true, z: 4,
      coordinateSystem: "cartesian2d",
      data: [[0]],
      encode: { x: -1, y: -1 },
      renderItem: (_: any, api: any) => ({
        type: "polyline",
        shape: { points: [[-80, 10], [-30, 10], [-30, -40]].map((q) => api.coord(q)) },
        style: { fill: "none", stroke: "#111", lineWidth: 1.5 },
      }),
    });
    // colour bar
    const b = grid.length;
    grid.push({ ...p.bar, show: false });
    xAxis.push({ type: "value", gridIndex: b, min: 0, max: 1, show: false });
    yAxis.push({
      type: "value", gridIndex: b, min: 0, max: p.classes.length, interval: 1, position: "right",
      axisLine: { show: false }, axisTick: { show: false }, splitLine: { show: false },
      axisLabel: { fontFamily: sans, fontSize: 14.5, color: ink, margin: 5, formatter: (v: number) => p.labels[v - 1] ?? "" },
    });
    series.push({
      type: "custom", xAxisIndex: b, yAxisIndex: b, silent: true, z: 2,
      coordinateSystem: "cartesian2d",
      data: p.classes.map((_, i) => [i]),
      encode: { x: -1, y: -1 },
      renderItem: (params: any, api: any) => {
        const i = params.dataIndex;
        const a = api.coord([0, i]);
        const c = api.coord([1, i + 1]);
        const color = classColors[p.classes[i]];
        return { type: "rect", shape: { x: a[0], y: c[1], width: c[0] - a[0], height: a[1] - c[1] }, style: { fill: color, stroke: color, lineWidth: 0.3 } };
      },
    });
  });
  return {
    animation: false,
    backgroundColor: "#fff",
    tooltip: { show: false },
    grid, xAxis, yAxis, series,
    graphic: [
      ...captions.map((c) => ({
        type: "text", left: c.x - 17, top: c.y - 17,
        style: { text: c.text, fontFamily: "Liberation Serif", fontSize: 30, fill: "#111" },
      })),
      { type: "rect", left: 1122, top: 955, shape: { width: 14, height: 2 }, style: { fill: "#A000C4" } },
    ],
  };
}

export default function App() {
  const ref = useRef<HTMLDivElement>(null);
  useEffect(() => {
    document.body.style.margin = "0";
    const chart = echarts.init(ref.current!, undefined, { renderer: "svg" });
    chart.setOption(buildOption());
    return () => chart.dispose();
  }, []);
  return <div ref={ref} style={{ position: "absolute", left: 0, top: 0, width: 1136, height: 1041, filter: "blur(0.5px)" }} />;
}
